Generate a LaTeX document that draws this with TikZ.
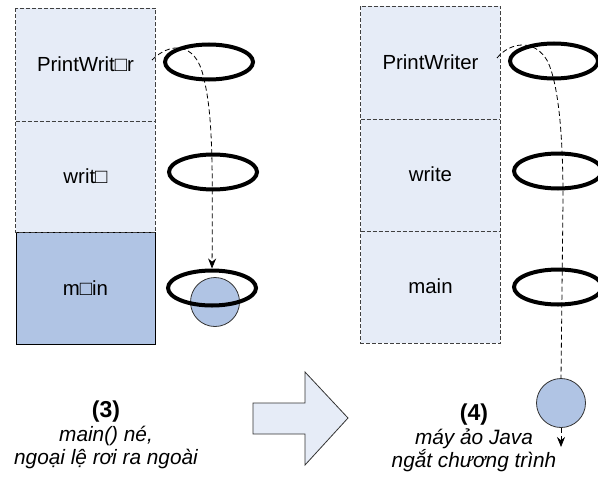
\documentclass[tikz,border=0pt]{standalone}
\usepackage{fontspec}
\setmainfont{Liberation Sans}
\usetikzlibrary{shapes.geometric, arrows.meta}
\definecolor{paleblue}{HTML}{E6ECF7}
\definecolor{midblue}{HTML}{B0C4E4}

\begin{document}
\begin{tikzpicture}[x=0.5pt, y=-0.5pt, >={Stealth[length=5pt, width=4pt]},
    frame/.style={fill=paleblue, minimum width=69.5pt, minimum height=56pt,
        inner sep=0pt, font=\fontsize{10.2}{12}\selectfont},
    border/.style={draw=black!75, dash pattern=on 2pt off 1pt},
    ring/.style={ellipse, draw, line width=2pt, minimum width=44pt,
        minimum height=17.5pt, inner sep=0pt},
    ball/.style={circle, draw=black!80, thin, fill=midblue,
        minimum size=24.5pt, inner sep=0pt},
    flow/.style={->, thin, dash pattern=on 2.5pt off 1.5pt},
    caption/.style={align=center, font=\fontsize{10.4}{11.6}\selectfont\itshape}]

    \useasboundingbox (0,0) rectangle (598,481);
    \clip (0,0) rectangle (598,481);

    % Stack before the JVM steps in (3)
    \node[frame] (lpw) at (85.5,64.5) {PrintWrit□r};
    \node[frame] (lwr) at (85.5,176) {writ□};
    \node[frame, fill=midblue, draw=black] (lmn) at (85.5,288) {m□in};
    \draw[border] (lpw.north west) rectangle (lwr.south east);
    \draw[border] (lpw.south west) -- (lpw.south east);

    \node[ring] (lr1) at (209,62) {};
    \node[ring] (lr2) at (213,172) {};
    \node[ball] (lball) at (215,302) {};
    \node[ring] (lr3) at (212,288) {};

    \coordinate (ls) at (152,60);
    \draw[flow] (ls) .. controls (170,42) and (195,42) .. (203,75)
        .. controls (212,110) and (213,150) .. (lr3.north);

    % Stack after main() gives up (4)
    \node[frame] (rpw) at (430.5,62.5) {PrintWriter};
    \node[frame] (rwr) at (430.5,174.5) {write};
    \node[frame] (rmn) at (430.5,286.5) {main};
    \draw[border] (rpw.north west) rectangle (rmn.south east);
    \draw[border] (rpw.south west) -- (rpw.south east);
    \draw[border] (rwr.south west) -- (rwr.south east);

    \node[ring] (rr1) at (554,61) {};
    \node[ring] (rr2) at (558,171) {};
    \node[ring] (rr3) at (558,287) {};
    \node[ball] (rball) at (561,403) {};

    \coordinate (rs) at (497,58);
    \coordinate (rend) at (561,447);
    \draw[flow, -] (rs) .. controls (510,42) and (535,38) .. (548,62)
        .. controls (558,85) and (563,130) .. (563,200) -- (rball.north);
    \draw[flow] (rball.south) -- (rend);

    % Block arrow between the two states
    \draw[draw=black!80, fill=paleblue]
        (253,403) -- (305,403) -- (305,372) -- (348,418)
        -- (305,465) -- (305,434) -- (253,434) -- cycle;

    \node[caption] (cap3) at (106,435)
        {{\upshape\bfseries\fontsize{11.5}{11}\selectfont (3)}\\main() né,\\ngoại lệ rơi ra ngoài};
    \node[caption] (cap4) at (474,438)
        {{\upshape\bfseries\fontsize{11.5}{11}\selectfont (4)}\\máy ảo Java\\ngắt chương trình};
\end{tikzpicture}
\end{document}
